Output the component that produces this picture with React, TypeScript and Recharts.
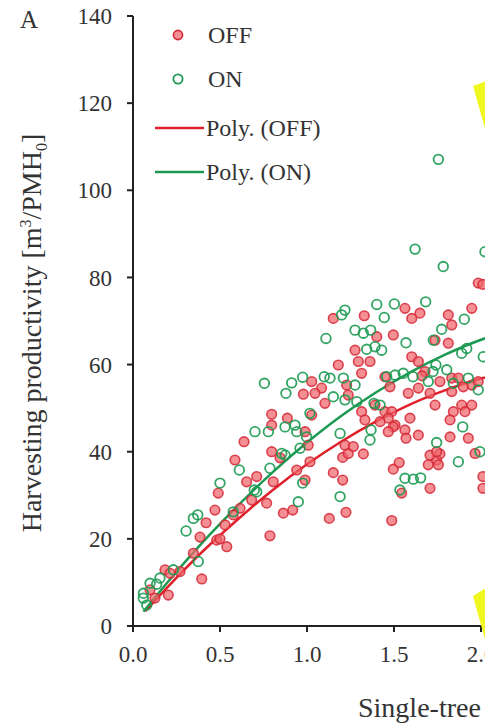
import React from 'react';
import { ComposedChart, Scatter, Line, XAxis, YAxis, Legend } from 'recharts';

// OFF observations (red)
const offX = [0.586,0.797,0.845,0.653,0.711,0.490,0.682,0.471,0.768,0.806,0.941,0.989,0.864,0.918,1.017,0.420,0.385,0.787,0.481,0.539,0.576,0.529,0.347,0.395,0.184,0.213,0.270,0.203,0.126,0.098,1.151,1.205,1.128,1.224,1.324,1.205,1.237,1.496,1.530,1.487,1.544,1.707,1.697,1.745,1.755,1.764,1.966,2.011,2.011,0.615,0.500,1.151,1.329,1.563,1.602,1.649,1.812,1.832,1.947,1.401,1.496,1.812,1.736,1.276,1.295,1.180,1.362,1.602,1.640,1.678,1.661,1.448,1.314,1.027,1.084,1.046,1.228,1.103,1.237,1.314,1.333,1.448,1.487,1.467,1.506,1.582,1.592,1.563,1.640,1.707,1.736,1.832,1.870,1.832,1.947,1.984,1.889,1.947,1.841,1.822,1.908,1.822,1.927,0.989,1.027,1.007,1.218,1.266,1.707,1.745,0.979,0.797,0.887,0.638,1.984,2.010,0.797,1.420,1.496,1.467,1.569,1.477,1.640,1.391,1.764,1.898];
const offY = [38.1,40.0,38.6,33.1,34.3,30.5,28.9,26.6,28.2,33.1,35.8,33.5,25.9,26.6,37.7,23.7,20.4,20.7,19.7,18.2,25.5,23.2,16.7,10.8,12.9,12.1,12.5,7.1,6.4,8.3,35.2,33.5,24.7,26.1,39.5,38.7,39.6,36.0,37.5,24.2,30.5,31.6,37.0,38.1,37.0,39.5,39.6,34.3,31.6,27.0,20.0,70.6,71.2,72.9,70.6,71.8,71.4,69.1,72.9,66.4,66.8,64.9,65.6,63.3,60.7,59.9,60.7,61.8,60.7,58.4,57.4,57.2,58.0,56.1,54.6,53.4,55.3,51.1,53.0,49.2,47.3,49.2,49.2,47.7,46.1,53.4,47.7,45.0,43.8,53.4,50.7,56.9,56.9,53.8,55.3,56.1,50.7,50.7,49.2,47.3,49.2,43.4,43.1,44.6,48.4,41.5,41.5,41.2,39.2,40.0,53.2,48.6,47.7,42.3,78.7,78.4,46.1,46.9,45.7,44.6,43.1,54.9,54.6,50.7,56.1,54.9];

// ON observations (green)
const onX = [1.755,1.621,1.783,2.023,1.682,1.502,1.401,1.218,1.199,1.444,1.109,1.276,1.324,1.366,1.343,1.391,1.429,1.569,1.726,1.774,1.904,1.889,1.918,1.803,1.741,2.013,0.755,0.879,0.912,0.975,1.099,1.132,1.209,1.276,1.151,1.218,1.286,1.458,1.506,1.553,1.609,1.697,1.724,1.927,1.984,1.841,1.385,1.420,1.368,1.362,1.190,1.017,0.941,0.998,0.874,0.931,0.778,0.701,0.855,0.960,0.787,0.611,0.500,1.190,1.745,1.895,1.870,1.994,1.563,1.611,1.653,1.534,0.697,0.874,0.975,0.950,0.305,0.347,0.372,0.375,0.059,0.098,0.136,0.079,0.232,0.576,0.711,0.155,0.060];
const onY = [107.1,86.5,82.5,85.9,74.4,73.9,73.8,72.5,71.4,70.8,66.0,67.9,67.2,67.9,63.5,64.1,63.3,65.0,65.6,68.1,70.4,62.6,63.7,58.8,59.9,61.8,55.7,53.4,55.8,57.1,57.2,56.9,56.9,55.3,52.6,51.9,51.5,57.2,57.6,58.0,57.2,56.1,58.4,56.9,54.2,55.7,51.1,50.7,45.0,42.7,44.2,48.8,44.6,43.4,45.7,46.1,44.6,44.6,39.6,40.8,36.2,35.8,32.8,29.7,42.1,45.7,37.7,40.0,33.9,33.7,34.0,31.2,31.2,39.2,32.8,28.5,21.8,24.7,25.5,14.8,6.4,9.8,9.6,4.8,12.9,26.2,30.8,11.0,7.5];

// Polynomial trend lines
const polyOffX = [0.07,0.2,0.4,0.6,0.8,1.0,1.2,1.4,1.6,1.8,2.0,2.2];
const polyOffY = [3.4,9.0,17.1,24.4,31.1,37.1,42.4,47.0,51.0,54.2,56.8,58.6];
const polyOnX = [0.06,0.2,0.4,0.6,0.8,1.0,1.2,1.4,1.6,1.8,2.0,2.2];
const polyOnY = [3.3,10.1,19.2,27.5,35.2,42.1,48.3,53.7,58.4,62.4,65.7,68.2];

const xTicks = [0,0.5,1.0,1.5,2.0,2.5,3.0,3.5,4.0];
const yTicks = [0,20,40,60,80,100,120,140];

const offData = offX.map((x, i) => ({ x, y: offY[i] }));
const onData = onX.map((x, i) => ({ x, y: onY[i] }));
const polyOffData = polyOffX.map((x, i) => ({ x, y: polyOffY[i] }));
const polyOnData = polyOnX.map((x, i) => ({ x, y: polyOnY[i] }));

const FONT = '"Liberation Serif", "Times New Roman", serif';
const RED = '#e0202a';
const GREEN = '#1c9a52';
const TEXT = '#333';

const OffDot = (p: any) => (
  <circle cx={p.cx} cy={p.cy} r={4.8} fill="#f0646a" fillOpacity={0.72} stroke="#d42836" strokeWidth={1.6} strokeOpacity={0.85} />
);
const OnDot = (p: any) => (
  <circle cx={p.cx} cy={p.cy} r={4.8} fill="none" stroke={GREEN} strokeWidth={1.8} strokeOpacity={0.9} />
);

const LegendContent = () => (
  <svg width={200} height={175} style={{ display: 'block', overflow: 'visible' }}>
    <circle cx={28} cy={19} r={4.6} fill="#f0646a" fillOpacity={0.72} stroke="#d42836" strokeWidth={1.6} />
    <text x={58} y={19} dominantBaseline="central" fontFamily={FONT} fontSize={24} fill={TEXT}>OFF</text>
    <circle cx={28} cy={63} r={4.6} fill="none" stroke={GREEN} strokeWidth={1.8} />
    <text x={58} y={63} dominantBaseline="central" fontFamily={FONT} fontSize={24} fill={TEXT}>ON</text>
    <line x1={5} x2={54} y1={112} y2={112} stroke={RED} strokeWidth={2.5} />
    <text x={56} y={112} dominantBaseline="central" fontFamily={FONT} fontSize={24} fill={TEXT}>Poly. (OFF)</text>
    <line x1={5} x2={54} y1={156} y2={156} stroke={GREEN} strokeWidth={2.5} />
    <text x={56} y={156} dominantBaseline="central" fontFamily={FONT} fontSize={24} fill={TEXT}>Poly. (ON)</text>
  </svg>
);

const YLabel = () => (
  <text transform="rotate(-90)" x={-333} y={41} textAnchor="middle" fontFamily={FONT} fontSize={28} fill={TEXT}>
    Harvesting productivity [m<tspan dy={-10} fontSize={16}>3</tspan><tspan dy={10}>/PMH</tspan><tspan dy={6} fontSize={16}>0</tspan><tspan dy={-6}>]</tspan>
  </text>
);

const XLabel = () => (
  <text x={358} y={717} fontFamily={FONT} fontSize={28} fill={TEXT}>
    Single-tree volume [m<tspan dy={-10} fontSize={16}>3</tspan><tspan dy={10}>]</tspan>
  </text>
);

export default function App() {
  const tickStyle = { fontFamily: FONT, fontSize: 23, fill: TEXT };
  return (
    <div style={{ position: 'absolute', left: 0, top: 0, width: 485, height: 728, overflow: 'hidden', background: '#fff' }}>
      <ComposedChart width={849} height={728} margin={{ top: 16, left: 53, right: 20, bottom: 42 }} style={{ fontFamily: FONT }}>
        <XAxis
          type="number"
          dataKey="x"
          domain={[0, 4]}
          ticks={xTicks}
          tickFormatter={(v: number) => v.toFixed(1)}
          allowDataOverflow
          height={60}
          tickSize={6}
          tickMargin={14}
          tick={tickStyle}
          axisLine={{ stroke: '#222', strokeWidth: 2 }}
          tickLine={{ stroke: '#222', strokeWidth: 2 }}
          label={{ content: () => <XLabel /> }}
        />
        <YAxis
          type="number"
          dataKey="y"
          domain={[0, 140]}
          ticks={yTicks}
          width={80}
          tickSize={6}
          tickMargin={15}
          tick={tickStyle}
          axisLine={{ stroke: '#222', strokeWidth: 2 }}
          tickLine={{ stroke: '#222', strokeWidth: 2 }}
          label={{ content: () => <YLabel /> }}
        />
        <Legend
          layout="horizontal"
          verticalAlign="middle"
          align="center"
          content={() => <LegendContent />}
          wrapperStyle={{ position: 'absolute', left: 150, top: 16, width: 200, height: 175 }}
        />
        <Scatter name="OFF" data={offData} dataKey="y" shape={OffDot} isAnimationActive={false} />
        <Scatter name="ON" data={onData} dataKey="y" shape={OnDot} isAnimationActive={false} />
        <Line name="Poly. (OFF)" data={polyOffData} dataKey="y" type="monotone" stroke={RED} strokeWidth={2.5} dot={false} activeDot={false} isAnimationActive={false} />
        <Line name="Poly. (ON)" data={polyOnData} dataKey="y" type="monotone" stroke={GREEN} strokeWidth={2.5} dot={false} activeDot={false} isAnimationActive={false} />
      </ComposedChart>
      <svg width={485} height={728} style={{ position: 'absolute', left: 0, top: 0, pointerEvents: 'none' }}>
        <text x={20} y={28} fontFamily={FONT} fontSize={25} fill={TEXT}>A</text>
        <polygon points="473,86 486,81 486,132" fill="#f0f71e" />
        <polygon points="473,596 486,588 486,643" fill="#f0f71e" />
      </svg>
    </div>
  );
}
